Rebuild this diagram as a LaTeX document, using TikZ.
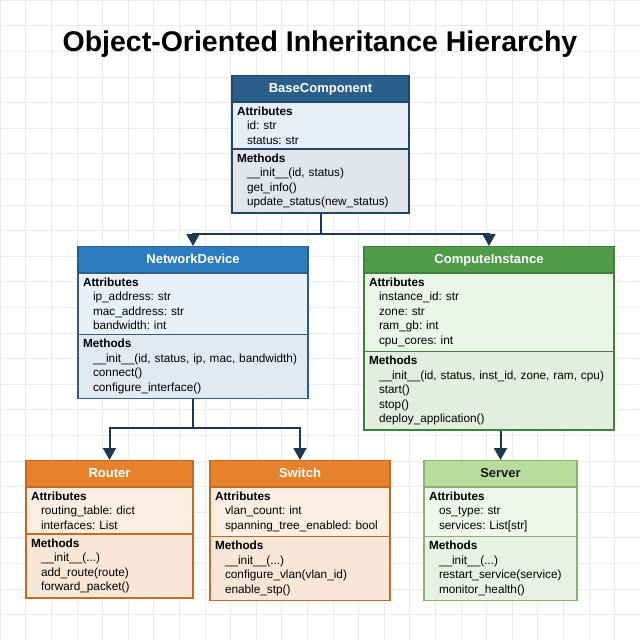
\documentclass[tikz,border=0pt]{standalone}
\usepackage{fontspec}
\setmainfont{Liberation Sans}
\usepackage{xcolor}
\usetikzlibrary{positioning, arrows.meta, shapes.multipart, calc}
\definecolor{gridgray}{HTML}{EBEBEB}
\definecolor{linknavy}{HTML}{1B3A52}
\definecolor{basehead}{HTML}{2A5F8C}
\definecolor{baseattr}{HTML}{E6EFF7}
\definecolor{basemeth}{HTML}{E2E6EA}
\definecolor{baseborder}{HTML}{1F4767}
\definecolor{nethead}{HTML}{2F7BC1}
\definecolor{netattr}{HTML}{E8F1FA}
\definecolor{netmeth}{HTML}{E1EAF3}
\definecolor{netborder}{HTML}{2A5F8C}
\definecolor{comphead}{HTML}{519C4B}
\definecolor{compattr}{HTML}{EAF4E7}
\definecolor{compmeth}{HTML}{E3EEE0}
\definecolor{compborder}{HTML}{3F803B}
\definecolor{orghead}{HTML}{E6822B}
\definecolor{orgattr}{HTML}{FCEFE2}
\definecolor{orgmeth}{HTML}{F8E7D7}
\definecolor{orgborder}{HTML}{C66A20}
\definecolor{srvhead}{HTML}{B7DC9D}
\definecolor{srvattr}{HTML}{EFF6EA}
\definecolor{srvmeth}{HTML}{E8F1E2}
\definecolor{srvborder}{HTML}{88B36C}
\definecolor{srvtext}{HTML}{1A1A1A}

\newcommand{\memb}[1]{\hspace*{10pt}#1}
\newcommand{\hdr}[1]{\makebox[\hsize][c]{\rule[-5pt]{0pt}{17pt}%
  \fontsize{13}{14.5}\selectfont\bfseries #1}}

\tikzset{
  classbox/.style={rectangle split, rectangle split parts=3, draw, line width=1.4pt,
    text width=#1, align=left, inner xsep=5pt, inner ysep=4pt, anchor=north,
    font=\fontsize{11.8}{14.5}\selectfont\frenchspacing},
  inherit/.style={draw=linknavy, line width=2pt,
    -{Triangle[length=12pt, width=13pt]}},
}

\begin{document}
\begin{tikzpicture}[x=1pt, y=-1pt]
  \useasboundingbox (0,0) rectangle (640,640);
  \fill[white] (0,0) rectangle (640,640);
  \draw[gridgray, line width=0.5pt, step=25.6pt] (0,0) grid (640,640);

  \node[font=\fontsize{28.5}{32}\selectfont\bfseries] (title) at (320,44)
    {Object-Oriented Inheritance Hierarchy};

  % top level
  \node[classbox=167pt, draw=baseborder,
        rectangle split part fill={basehead, baseattr, basemeth}] (base) at (320.5,75)
    {\color{white}\hdr{BaseComponent}
     \nodepart{two}\textbf{Attributes}\\
       \memb{id: str}\\
       \memb{status: str}
     \nodepart{three}\textbf{Methods}\\
       \memb{\_\_init\_\_(id, status)}\\
       \memb{get\_info()}\\
       \memb{update\_status(new\_status)}};

  % second level
  \node[classbox=220pt, draw=netborder,
        rectangle split part fill={nethead, netattr, netmeth}] (net) at (193,246)
    {\color{white}\hdr{NetworkDevice}
     \nodepart{two}\textbf{Attributes}\\
       \memb{ip\_address: str}\\
       \memb{mac\_address: str}\\
       \memb{bandwidth: int}
     \nodepart{three}\textbf{Methods}\\
       \memb{\_\_init\_\_(id, status, ip, mac, bandwidth)}\\
       \memb{connect()}\\
       \memb{configure\_interface()}};

  \node[classbox=240pt, draw=compborder,
        rectangle split part fill={comphead, compattr, compmeth}] (comp) at (489,246)
    {\color{white}\hdr{ComputeInstance}
     \nodepart{two}\textbf{Attributes}\\
       \memb{instance\_id: str}\\
       \memb{zone: str}\\
       \memb{ram\_gb: int}\\
       \memb{cpu\_cores: int}
     \nodepart{three}\textbf{Methods}\\
       \memb{\_\_init\_\_(id, status, inst\_id, zone, ram, cpu)}\\
       \memb{start()}\\
       \memb{stop()}\\
       \memb{deploy\_application()}};

  % third level
  \node[classbox=157pt, draw=orgborder,
        rectangle split part fill={orghead, orgattr, orgmeth}] (router) at (109.5,460)
    {\color{white}\hdr{Router}
     \nodepart{two}\textbf{Attributes}\\
       \memb{routing\_table: dict}\\
       \memb{interfaces: List}
     \nodepart{three}\textbf{Methods}\\
       \memb{\_\_init\_\_(...)}\\
       \memb{add\_route(route)}\\
       \memb{forward\_packet()}};

  \node[classbox=170pt, draw=orgborder,
        rectangle split part fill={orghead, orgattr, orgmeth}] (switch) at (300,460)
    {\color{white}\hdr{Switch}
     \nodepart{two}\textbf{Attributes}\\
       \memb{vlan\_count: int}\\
       \memb{spanning\_tree\_enabled: bool}
     \nodepart{three}\textbf{Methods}\\
       \memb{\_\_init\_\_(...)}\\
       \memb{configure\_vlan(vlan\_id)}\\
       \memb{enable\_stp()}};

  \node[classbox=143pt, draw=srvborder,
        rectangle split part fill={srvhead, srvattr, srvmeth}] (srv) at (500.5,460)
    {\color{srvtext}\hdr{Server}
     \nodepart{two}\textbf{Attributes}\\
       \memb{os\_type: str}\\
       \memb{services: List[str]}
     \nodepart{three}\textbf{Methods}\\
       \memb{\_\_init\_\_(...)}\\
       \memb{restart\_service(service)}\\
       \memb{monitor\_health()}};

  % inheritance links
  \coordinate (split1) at ($(base.south)+(0,20.5)$);
  \coordinate (split2) at ($(net.south)+(0,29)$);
  \draw[inherit] (base.south) -- (split1) -| (net.north);
  \draw[inherit] (split1) -| (comp.north);
  \draw[inherit] (net.south) -- (split2) -| (router.north);
  \draw[inherit] (split2) -| (switch.north);
  \draw[inherit] (srv.north |- comp.south) -- (srv.north);
\end{tikzpicture}
\end{document}
